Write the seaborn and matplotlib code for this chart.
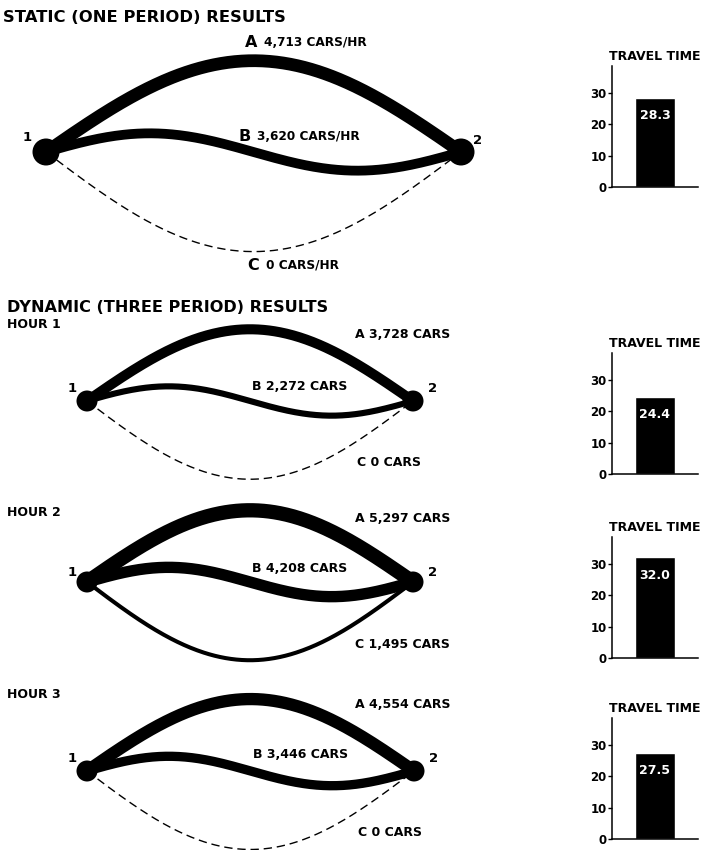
import numpy as np
import matplotlib
matplotlib.use("Agg")
import matplotlib.pyplot as plt
import seaborn as sns

sns.set_theme(style="white")
plt.rcParams['font.family'] = ['DejaVu Sans']
plt.rcParams['font.weight'] = 'bold'
plt.rcParams['text.color'] = 'black'
plt.rcParams['axes.labelcolor'] = 'black'
plt.rcParams['xtick.color'] = 'black'
plt.rcParams['ytick.color'] = 'black'

# ---------------------------------------
# Data
# ---------------------------------------
periods = ["STATIC", "HOUR 1", "HOUR 2", "HOUR 3"]
flow_a = [4713, 3728, 5297, 4554]
flow_b = [3620, 2272, 4208, 3446]
flow_c = [0, 0, 1495, 0]
travel_time = [28.3, 24.4, 32.0, 27.5]
flow_unit = ["CARS/HR", "CARS", "CARS", "CARS"]

# ---------------------------------------
# Layout (pixel coordinates of the 710x850 canvas)
# ---------------------------------------
W, H = 710, 850
node1 = [(46, 152), (87, 401), (87, 582), (87, 771)]
node2 = [(461, 152), (413, 401), (413, 582), (414, 771)]
node_px = [27, 21, 21, 21]
label_a = [(245, 42), (355, 335), (355, 518), (355, 705)]
label_b = [(238, 136), (252, 386), (252, 568), (253, 755)]
label_c = [(247, 265), (357, 462), (355, 645), (358, 832)]
num1 = [(23, 137), (68, 388), (68, 573), (68, 759)]
num2 = [(473, 140), (428, 388), (428, 573), (429, 758)]
hour_y = [None, 325, 512, 695]
bar_bottom_px = [187, 474, 658, 839]

px_per_pt = 100 / 72.0


def width_pt(flow):
    # line thickness proportional to the flow on the route
    return flow / 370.0 / px_per_pt


fig = plt.figure(figsize=(7.1, 8.5), dpi=100)
net = fig.add_axes([0, 0, 1, 1])
net.set_xlim(0, W)
net.set_ylim(H, 0)
net.axis("off")

t = np.linspace(0, 1, 300)
shape_a = 0.22 * np.sin(np.pi * t)
shape_b = 0.045 * np.sin(2 * np.pi * t)
shape_c = -0.24 * np.sin(np.pi * t)

for i in range(4):
    (x1, y1), (x2, y2) = node1[i], node2[i]
    span = x2 - x1
    xs = x1 + t * span
    ybase = y1 + (y2 - y1) * t
    for shape, flow in [(shape_a, flow_a[i]), (shape_b, flow_b[i]), (shape_c, flow_c[i])]:
        ys = ybase - shape * span
        if flow > 0:
            net.plot(xs, ys, color="black", lw=width_pt(flow), solid_capstyle="butt")
        else:
            net.plot(xs, ys, color="black", lw=1.0, linestyle=(0, (6, 3.5)))
    s = (node_px[i] / px_per_pt) ** 2
    net.scatter([x1, x2], [y1, y2], s=s, color="black", zorder=5, edgecolors="none")

    net.text(*num1[i], "1", fontsize=9.5, fontweight="bold", ha="left", va="center")
    net.text(*num2[i], "2", fontsize=9.5, fontweight="bold", ha="left", va="center")

    if i == 0:
        for (lx, ly), letter, flow in [(label_a[i], "A", flow_a[i]),
                                       (label_b[i], "B", flow_b[i]),
                                       (label_c[i], "C", flow_c[i])]:
            net.text(lx, ly, letter, fontsize=11.5, fontweight="bold", ha="left", va="center")
            net.annotate(f"{flow:,} {flow_unit[i]}", xy=(lx, ly), xytext=(14, 0),
                         textcoords="offset points", fontsize=8.7, fontweight="bold",
                         ha="left", va="center")
    else:
        for (lx, ly), letter, flow in [(label_a[i], "A", flow_a[i]),
                                       (label_b[i], "B", flow_b[i]),
                                       (label_c[i], "C", flow_c[i])]:
            net.text(lx, ly, f"{letter} {flow:,} {flow_unit[i]}", fontsize=9,
                     fontweight="bold", ha="left", va="center")
        net.text(7, hour_y[i], periods[i], fontsize=9, fontweight="bold", ha="left", va="center")

net.text(3, 17, "STATIC (ONE PERIOD) RESULTS", fontsize=11.8, fontweight="bold",
         ha="left", va="center")
net.text(7, 308, "DYNAMIC (THREE PERIOD) RESULTS", fontsize=11.6, fontweight="bold",
         ha="left", va="center")

# ---------------------------------------
# Travel time bars
# ---------------------------------------
bar_h = 121 / H
for i in range(4):
    ax = fig.add_axes([612 / W, 1 - bar_bottom_px[i] / H, 86 / W, bar_h])
    sns.barplot(x=[periods[i]], y=[travel_time[i]], color="black", width=0.465,
                saturation=1, ax=ax)
    ax.set_xlim(-0.5, 0.5)
    ax.set_ylim(0, 38.5)
    ax.set_yticks([0, 10, 20, 30])
    ax.set_xticks([])
    ax.set_xlabel("")
    ax.set_ylabel("")
    for side in ["top", "right"]:
        ax.spines[side].set_visible(False)
    for side in ["left", "bottom"]:
        ax.spines[side].set_color("black")
        ax.spines[side].set_linewidth(1.1)
    ax.tick_params(axis="y", which="both", left=True, length=3, width=1, pad=1,
                   labelsize=8.5, colors="black")
    for lbl in ax.get_yticklabels():
        lbl.set_fontweight("bold")
    ax.set_title("TRAVEL TIME", fontsize=9, fontweight="bold", pad=4, color="black")
    ax.annotate(f"{travel_time[i]:.1f}", xy=(0, travel_time[i]), xytext=(0, -8),
                textcoords="offset points", ha="center", va="top", color="white",
                fontsize=9, fontweight="bold")
    ax.patch.set_alpha(0)

fig.savefig("out.png", dpi=100)
